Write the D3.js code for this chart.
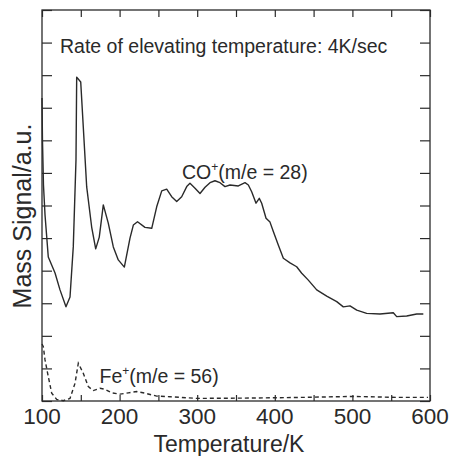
<!DOCTYPE html>
<html>
<head>
<meta charset="utf-8">
<script src="https://cdn.jsdelivr.net/npm/d3@7"></script>
<style>
  body { margin: 0; background: #fff; }
  text { font-family: "Liberation Sans", Arial, Helvetica, sans-serif; fill: #2a2a2a; }
</style>
</head>
<body>
<div id="chart"></div>
<script>
// CO+ (m/e = 28) signal
var coTemp = [100, 100.6, 101.9, 103.9, 108.1, 116.8, 123.2, 130.9, 136.1, 140.3, 143.8, 144.7, 149.9, 153.2,
  157.6, 164.0, 169.2, 173.8, 179.0, 185.4, 191.9, 198.3, 206.1, 213.4, 217.7, 223.1, 232.7, 241.4, 247.8,
  254.3, 260.7, 267.1, 273.6, 280.0, 286.5, 290.7, 297.2, 303.6, 310.1, 316.5, 322.9, 329.4, 335.8, 342.3,
  353.0, 361.6, 365.9, 370.2, 375.8, 380.0, 383.1, 388.7, 393.8, 398.1, 404.5, 411.0, 419.6, 428.2, 434.7,
  443.2, 454.0, 466.9, 479.8, 488.3, 496.9, 505.6, 518.4, 535.6, 552.7, 557.1, 570.0, 582.9, 591.4];
var coSignal = [9.30, 8.01, 6.63, 5.71, 4.42, 3.93, 3.41, 2.89, 3.19, 4.73, 7.40, 9.94, 9.79, 8.41,
  6.57, 5.34, 4.67, 5.03, 6.02, 5.46, 4.73, 4.33, 4.11, 5.00, 5.40, 5.50, 5.33, 5.30, 5.96,
  6.45, 6.50, 6.27, 6.12, 6.27, 6.58, 6.68, 6.53, 6.37, 6.56, 6.70, 6.76, 6.70, 6.58, 6.63,
  6.60, 6.70, 6.63, 6.42, 6.07, 6.22, 6.07, 5.61, 5.49, 5.20, 4.79, 4.38, 4.24, 4.12, 3.92,
  3.71, 3.41, 3.22, 3.05, 2.89, 2.92, 2.79, 2.69, 2.67, 2.71, 2.59, 2.61, 2.67, 2.67];

// Fe+ (m/e = 56) signal
var feTemp = [100, 101.7, 103.9, 108.1, 112.5, 118.9, 127.4, 136.1, 142.5, 146.8, 153.2, 159.7, 166.1,
  174.7, 181.2, 189.8, 200.5, 211.2, 222.0, 232.7, 247.8, 265.0, 299.4, 368.0, 432.5, 500.8, 561.4, 597.4];
var feSignal = [1.75, 1.67, 1.26, 0.75, 0.24, 0.05, 0.01, 0.08, 0.54, 1.16, 0.85, 0.44, 0.32,
  0.39, 0.36, 0.25, 0.21, 0.25, 0.29, 0.24, 0.15, 0.13, 0.08, 0.09, 0.11, 0.14, 0.11, 0.11];

var xTicks = [100, 150, 200, 250, 300, 350, 400, 450, 500, 550, 600];
var xLabels = [100, 200, 300, 400, 500, 600];
var yTicks = [0, 1, 2, 3, 4, 5, 6, 7, 8, 9, 10, 11, 12];

var W = 452, H = 456;
var plotLeft = 42, plotRight = 430, plotTop = 10, plotBottom = 401;

var svg = d3.select("#chart").append("svg")
  .attr("width", W)
  .attr("height", H);

var x = d3.scaleLinear().domain([100, 600]).range([plotLeft, plotRight]);
var y = d3.scaleLinear().domain([0, 12]).range([plotBottom, plotTop]);

var ink = "#2a2a2a";

// frame
svg.append("rect")
  .attr("x", plotLeft).attr("y", plotTop)
  .attr("width", plotRight - plotLeft).attr("height", plotBottom - plotTop)
  .attr("fill", "none").attr("stroke", ink).attr("stroke-width", 1.3);

// ticks, all pointing inward
function styleAxis(g) {
  g.select(".domain").remove();
  g.selectAll("line").attr("stroke", ink).attr("stroke-width", 1.2);
}

svg.append("g")
  .attr("transform", "translate(0," + plotBottom + ")")
  .call(d3.axisBottom(x).tickValues(xTicks).tickSize(-6).tickFormat(""))
  .call(styleAxis);

svg.append("g")
  .attr("transform", "translate(0," + plotTop + ")")
  .call(d3.axisTop(x).tickValues(xTicks).tickSize(-7).tickFormat(""))
  .call(styleAxis);

svg.append("g")
  .attr("transform", "translate(" + plotLeft + ",0)")
  .call(d3.axisLeft(y).tickValues(yTicks).tickSize(-10).tickFormat(""))
  .call(styleAxis);

svg.append("g")
  .attr("transform", "translate(" + plotRight + ",0)")
  .call(d3.axisRight(y).tickValues(yTicks).tickSize(-10).tickFormat(""))
  .call(styleAxis);

// x tick labels
svg.selectAll(".xlab")
  .data(xLabels)
  .enter().append("text")
  .attr("class", "xlab")
  .attr("x", d => x(d))
  .attr("y", 424)
  .attr("text-anchor", "middle")
  .style("font-size", "22.5px")
  .text(d => d);

// axis titles
svg.append("text")
  .attr("x", (plotLeft + plotRight) / 2 - 7)
  .attr("y", 452)
  .attr("text-anchor", "middle")
  .style("font-size", "23px")
  .text("Temperature/K");

svg.append("text")
  .attr("transform", "translate(31,216) rotate(-90)")
  .attr("text-anchor", "middle")
  .style("font-size", "25px")
  .text("Mass Signal/a.u.");

// curves
var line = d3.line()
  .x(d => x(d[0]))
  .y(d => y(d[1]));

var coData = coTemp.map((t, i) => [t, coSignal[i]]);
var feData = feTemp.map((t, i) => [t, feSignal[i]]);

svg.append("path")
  .datum(coData)
  .attr("d", line)
  .attr("fill", "none")
  .attr("stroke", ink)
  .attr("stroke-width", 1.4)
  .attr("stroke-linejoin", "round");

svg.append("path")
  .datum(feData)
  .attr("d", line)
  .attr("fill", "none")
  .attr("stroke", ink)
  .attr("stroke-width", 1.4)
  .attr("stroke-dasharray", "4,3");

// annotations
svg.append("text")
  .attr("x", 60)
  .attr("y", 53)
  .style("font-size", "19.5px")
  .text("Rate of elevating temperature: 4K/sec");

var co = svg.append("text")
  .attr("x", 182)
  .attr("y", 179)
  .style("font-size", "19.5px");
co.append("tspan").text("CO");
co.append("tspan").attr("dy", -8).style("font-size", "12px").text("+");
co.append("tspan").attr("dy", 8).text("(m/e = 28)");

var fe = svg.append("text")
  .attr("x", 99.5)
  .attr("y", 383)
  .style("font-size", "19.5px");
fe.append("tspan").text("Fe");
fe.append("tspan").attr("dy", -8).style("font-size", "12px").text("+");
fe.append("tspan").attr("dy", 8).text("(m/e = 56)");
</script>
</body>
</html>
